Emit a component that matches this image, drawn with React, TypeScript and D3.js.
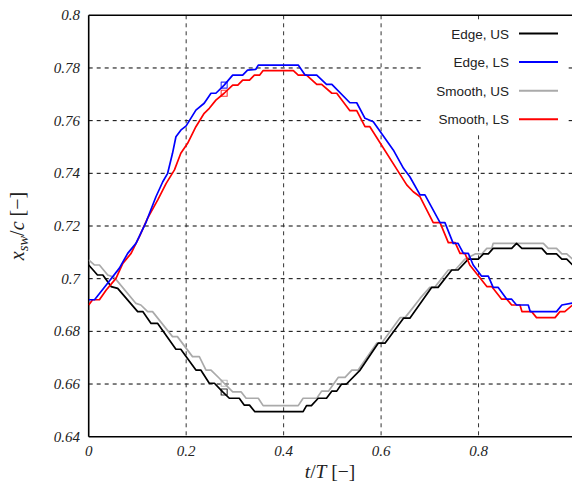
import React from "react";
import * as d3 from "d3";

// ---- data ----
const X_TICKS = [0, 0.2, 0.4, 0.6, 0.8];
const X_TICK_LABELS = ["0", "0.2", "0.4", "0.6", "0.8"];
const Y_TICKS = [0.64, 0.66, 0.68, 0.7, 0.72, 0.74, 0.76, 0.78, 0.8];
const Y_TICK_LABELS = ["0.64", "0.66", "0.68", "0.7", "0.72", "0.74", "0.76", "0.78", "0.8"];

const SERIES_NAMES = ["Edge, US", "Edge, LS", "Smooth, US", "Smooth, LS"];
const SERIES_COLORS = ["#000000", "#0000ff", "#aaaaaa", "#ff0000"];

const T_EDGE_US = [0, 0.018, 0.029, 0.046, 0.0595, 0.1005, 0.111, 0.128, 0.1416, 0.179, 0.189, 0.22, 0.23, 0.2475, 0.258, 0.275, 0.2886, 0.309, 0.319, 0.33, 0.341, 0.44, 0.447, 0.457, 0.471, 0.488, 0.4987, 0.509, 0.519, 0.529, 0.557, 0.594, 0.608, 0.646, 0.659, 0.704, 0.717, 0.745, 0.758, 0.779, 0.7995, 0.81, 0.82, 0.83, 0.868, 0.878, 0.889, 0.93, 0.94, 0.96, 0.971, 0.981, 0.993];
const V_EDGE_US = [0.7052, 0.7014, 0.7014, 0.697, 0.6963, 0.6875, 0.6875, 0.683, 0.683, 0.6732, 0.6732, 0.6653, 0.6653, 0.6603, 0.6603, 0.657, 0.6546, 0.6546, 0.652, 0.652, 0.6495, 0.6495, 0.6518, 0.6518, 0.6546, 0.6546, 0.6573, 0.6573, 0.66, 0.66, 0.6653, 0.6755, 0.6755, 0.685, 0.685, 0.6967, 0.6967, 0.7033, 0.7033, 0.7074, 0.7074, 0.7094, 0.7094, 0.7115, 0.7115, 0.7134, 0.7115, 0.7115, 0.7094, 0.7094, 0.7074, 0.7074, 0.7052];

const T_EDGE_LS = [0, 0.012, 0.036, 0.063, 0.08, 0.097, 0.118, 0.138, 0.152, 0.162, 0.172, 0.179, 0.189, 0.2, 0.22, 0.237, 0.251, 0.261, 0.278, 0.2955, 0.316, 0.326, 0.343, 0.348, 0.43, 0.444, 0.468, 0.488, 0.499, 0.536, 0.55, 0.567, 0.584, 0.625, 0.646, 0.659, 0.68, 0.69, 0.721, 0.731, 0.748, 0.758, 0.769, 0.779, 0.789, 0.806, 0.82, 0.83, 0.84, 0.858, 0.868, 0.878, 0.902, 0.906, 0.96, 0.971, 0.993];
const V_EDGE_LS = [0.692, 0.692, 0.6976, 0.704, 0.7096, 0.7134, 0.7216, 0.7311, 0.7368, 0.74, 0.7476, 0.7539, 0.7564, 0.758, 0.764, 0.7666, 0.7704, 0.7704, 0.7735, 0.7773, 0.7773, 0.7792, 0.7795, 0.7811, 0.7811, 0.7773, 0.7773, 0.7738, 0.7738, 0.7668, 0.7668, 0.7609, 0.7596, 0.7489, 0.7419, 0.7387, 0.7318, 0.7318, 0.7213, 0.7213, 0.7134, 0.7134, 0.7096, 0.7096, 0.7052, 0.701, 0.701, 0.6967, 0.6967, 0.6922, 0.6922, 0.69, 0.69, 0.6875, 0.6875, 0.69, 0.6908];

const T_SMOOTH_US = [0, 0.0115, 0.022, 0.039, 0.0525, 0.097, 0.107, 0.121, 0.131, 0.172, 0.182, 0.213, 0.227, 0.2407, 0.251, 0.268, 0.278, 0.2955, 0.313, 0.323, 0.348, 0.358, 0.43, 0.44, 0.468, 0.478, 0.492, 0.512, 0.526, 0.54, 0.553, 0.591, 0.601, 0.639, 0.649, 0.659, 0.68, 0.7, 0.71, 0.738, 0.752, 0.772, 0.793, 0.807, 0.817, 0.827, 0.83, 0.933, 0.943, 0.96, 0.971, 0.981, 0.993];
const V_SMOOTH_US = [0.7071, 0.7052, 0.7052, 0.7014, 0.7005, 0.6906, 0.69, 0.6875, 0.6875, 0.678, 0.678, 0.6704, 0.6704, 0.6653, 0.6653, 0.6622, 0.6603, 0.657, 0.657, 0.6546, 0.6546, 0.6518, 0.6518, 0.6546, 0.6546, 0.6573, 0.6573, 0.6625, 0.6625, 0.6653, 0.6653, 0.6755, 0.6755, 0.6852, 0.6852, 0.6875, 0.6925, 0.6967, 0.6967, 0.7033, 0.7033, 0.7074, 0.7094, 0.7094, 0.7115, 0.7115, 0.7134, 0.7134, 0.7115, 0.7115, 0.7094, 0.7094, 0.7074];

const T_SMOOTH_LS = [0, 0.008, 0.022, 0.036, 0.056, 0.07, 0.087, 0.104, 0.121, 0.142, 0.159, 0.176, 0.189, 0.203, 0.22, 0.237, 0.2475, 0.261, 0.278, 0.2955, 0.306, 0.316, 0.33, 0.34, 0.351, 0.358, 0.42, 0.43, 0.447, 0.468, 0.478, 0.499, 0.509, 0.536, 0.55, 0.567, 0.577, 0.6526, 0.666, 0.68, 0.707, 0.721, 0.738, 0.752, 0.762, 0.772, 0.782, 0.817, 0.827, 0.8475, 0.858, 0.868, 0.885, 0.889, 0.909, 0.919, 0.957, 0.967, 0.977, 0.993];
const V_SMOOTH_LS = [0.69, 0.692, 0.692, 0.6957, 0.7001, 0.7058, 0.7096, 0.716, 0.723, 0.73, 0.7362, 0.7413, 0.7476, 0.7514, 0.7577, 0.7628, 0.7647, 0.7678, 0.7704, 0.7735, 0.7735, 0.7754, 0.7754, 0.7773, 0.7773, 0.779, 0.779, 0.7773, 0.7773, 0.7738, 0.7738, 0.7704, 0.7704, 0.7638, 0.7638, 0.7577, 0.7577, 0.7356, 0.733, 0.7311, 0.7213, 0.7213, 0.7137, 0.7137, 0.7096, 0.7096, 0.7052, 0.697, 0.697, 0.6922, 0.6922, 0.69, 0.69, 0.6875, 0.6875, 0.6852, 0.6852, 0.6875, 0.6875, 0.69];

const MARKER_T = 0.278;
const MARKER_V = [0.657, 0.7735, 0.6603, 0.7704];

const SERIES_T = [T_EDGE_US, T_EDGE_LS, T_SMOOTH_US, T_SMOOTH_LS];
const SERIES_V = [V_EDGE_US, V_EDGE_LS, V_SMOOTH_US, V_SMOOTH_LS];

export default function App() {
  const W = 572, H = 484;
  const left = 88.7, top = 15.3, bottom = 436.7, clipRight = 572;
  const x = d3.scaleLinear().domain([0, 1]).range([left, left + 487.3]);
  const y = d3.scaleLinear().domain([0.64, 0.8]).range([bottom, top]);
  const line = d3.line<[number, number]>().x((d) => x(d[0])).y((d) => y(d[1]));

  const serif = "'Liberation Serif', 'DejaVu Serif', serif";
  const sans = "'Liberation Sans', Arial, sans-serif";

  const order = [2, 0, 3, 1];

  return (
    <div style={{ position: "fixed", left: 0, top: 0, width: W, height: H, background: "#fff" }}>
      <svg width={W} height={H} viewBox={`0 0 ${W} ${H}`} style={{ display: "block" }}>
        <defs>
          <clipPath id="plotclip">
            <rect x={left} y={top} width={clipRight - left} height={bottom - top} />
          </clipPath>
        </defs>
        <rect x={0} y={0} width={W} height={H} fill="#fff" />
        {/* grid */}
        <g stroke="#000" strokeWidth={1} strokeDasharray="4,4" fill="none">
          {Y_TICKS.filter((v) => v > 0.64 && v < 0.8).map((v) => (
            <line key={"gy" + v} x1={left} x2={clipRight} y1={y(v)} y2={y(v)} />
          ))}
          {X_TICKS.filter((v) => v > 0).map((v) => (
            <line key={"gx" + v} x1={x(v)} x2={x(v)} y1={top} y2={bottom} stroke="#333" />
          ))}
        </g>
        {/* legend background */}
        <rect x={424} y={20} width={142} height={115} fill="#fff" />
        {/* frame */}
        <g stroke="#000" strokeWidth={1.6} fill="none">
          <line x1={left} x2={left} y1={top} y2={bottom} />
          <line x1={left} x2={clipRight} y1={top} y2={top} />
          <line x1={left} x2={clipRight} y1={bottom} y2={bottom} />
        </g>
        {/* series */}
        <g clipPath="url(#plotclip)" fill="none" strokeWidth={1.7} strokeLinejoin="round">
          {order.map((i) => {
            const pts = SERIES_T[i].map((t, k) => [t, SERIES_V[i][k]] as [number, number]);
            return <path key={"s" + i} d={line(pts) || ""} stroke={SERIES_COLORS[i]} />;
          })}
          {order.map((i) => (
            <rect
              key={"m" + i}
              x={x(MARKER_T) - 3}
              y={y(MARKER_V[i]) - 3}
              width={6}
              height={6}
              stroke={SERIES_COLORS[i]}
              strokeWidth={1.1}
              strokeOpacity={0.8}
              fill="none"
            />
          ))}
        </g>
        {/* y tick labels */}
        <g fontFamily={serif} fontStyle="italic" fontSize={15} fill="#222" textAnchor="end">
          {Y_TICKS.map((v, i) => (
            <text key={"yl" + v} x={80} y={y(v) + 5}>
              {Y_TICK_LABELS[i]}
            </text>
          ))}
        </g>
        {/* x tick labels */}
        <g fontFamily={serif} fontStyle="italic" fontSize={15} fill="#222" textAnchor="middle">
          {X_TICKS.map((v, i) => (
            <text key={"xl" + v} x={x(v)} y={456}>
              {X_TICK_LABELS[i]}
            </text>
          ))}
        </g>
        {/* axis titles */}
        <text x={330} y={478} textAnchor="middle" fontFamily={serif} fontSize={19.5} fill="#222">
          <tspan fontStyle="italic">t</tspan>
          <tspan>/</tspan>
          <tspan fontStyle="italic">T</tspan>
          <tspan> [−]</tspan>
        </text>
        <text
          transform="translate(24,226) rotate(-90)"
          textAnchor="middle"
          fontFamily={serif}
          fontSize={20}
          fill="#222"
        >
          <tspan fontStyle="italic">x</tspan>
          <tspan fontStyle="italic" fontSize={14.5} dy={4}>sw</tspan>
          <tspan dy={-4}>/</tspan>
          <tspan fontStyle="italic">c</tspan>
          <tspan> [−]</tspan>
        </text>
        {/* legend */}
        <g fontFamily={sans} fontSize={13.5} fill="#222">
          {SERIES_NAMES.map((name, i) => {
            const ly = 33.5 + i * 28.6;
            return (
              <g key={"lg" + i}>
                <text x={509} y={ly + 5} textAnchor="end">
                  {name}
                </text>
                <line x1={519} x2={558} y1={ly} y2={ly} stroke={SERIES_COLORS[i]} strokeWidth={2} />
              </g>
            );
          })}
        </g>
      </svg>
    </div>
  );
}
